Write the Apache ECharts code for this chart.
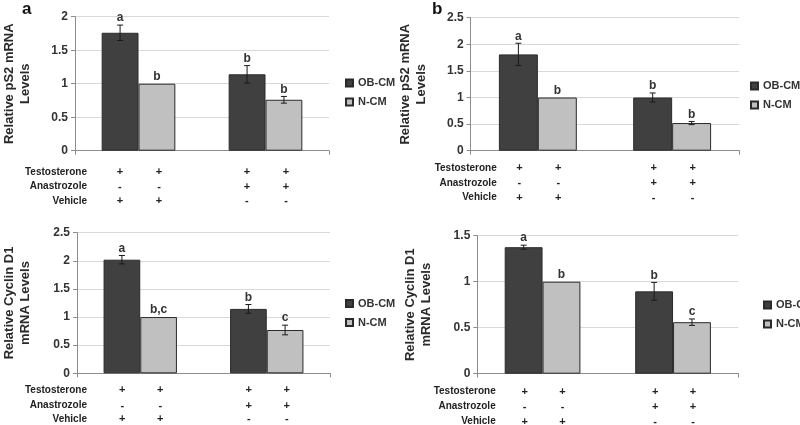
<!DOCTYPE html>
<html><head><meta charset="utf-8">
<script src="https://cdn.jsdelivr.net/npm/echarts@6/dist/echarts.min.js"></script>
<style>html,body{margin:0;padding:0;background:#fff}#c{width:800px;height:425px}</style>
</head><body><div id="c"></div>
<script>
// ---- data ----
const groups = ['Testosterone+Vehicle', 'Testosterone+Anastrozole'];
const seriesNames = ['OB-CM', 'N-CM'];

const pS2A_OB = [1.76, 1.14];   const pS2A_OB_err = [0.115, 0.13];  const pS2A_OB_let = ['a', 'b'];
const pS2A_N  = [1.00, 0.76];   const pS2A_N_err  = [0, 0.05];      const pS2A_N_let  = ['b', 'b'];
const pS2B_OB = [1.81, 1.00];   const pS2B_OB_err = [0.21, 0.085];  const pS2B_OB_let = ['a', 'b'];
const pS2B_N  = [1.00, 0.52];   const pS2B_N_err  = [0, 0.03];      const pS2B_N_let  = ['b', 'b'];
const cycA_OB = [2.02, 1.145];  const cycA_OB_err = [0.075, 0.078]; const cycA_OB_let = ['a', 'b'];
const cycA_N  = [1.00, 0.77];   const cycA_N_err  = [0, 0.086];     const cycA_N_let  = ['b,c', 'c'];
const cycB_OB = [1.375, 0.895]; const cycB_OB_err = [0.022, 0.097]; const cycB_OB_let = ['a', 'b'];
const cycB_N  = [1.00, 0.56];   const cycB_N_err  = [0, 0.035];     const cycB_N_let  = ['b', 'c'];

const yMax = [2, 2.5, 2.5, 1.5];
const yNames = ['Relative pS2 mRNA\nLevels', 'Relative pS2 mRNA\nLevels', 'Relative Cyclin D1\nmRNA Levels', 'Relative Cyclin D1\nmRNA Levels'];
const panelLetters = ['a', 'b'];

const tableRows = ['Testosterone', 'Anastrozole', 'Vehicle'];
const testosteroneRow = ['+', '+', '+', '+'];
const anastrozoleRow  = ['-', '-', '+', '+'];
const vehicleRow      = ['+', '+', '-', '-'];

// ---- layout ----
const panels = [
  {vals:[pS2A_OB,pS2A_N], errs:[pS2A_OB_err,pS2A_N_err], lets:[pS2A_OB_let,pS2A_N_let],
   grid:{left:59, top:16.7, width:270, height:134}, nameGap:42, legend:{left:340, top:72.5},
   table:{right:87, dy:[21.3,36,50.3]}},
  {vals:[pS2B_OB,pS2B_N], errs:[pS2B_OB_err,pS2B_N_err], lets:[pS2B_OB_let,pS2B_N_let],
   grid:{left:470.7, top:17.7, width:268.6, height:133}, nameGap:41, legend:{left:745, top:75.5},
   table:{right:496.7, dy:[17.3,32.3,47]}},
  {vals:[cycA_OB,cycA_N], errs:[cycA_OB_err,cycA_N_err], lets:[cycA_OB_let,cycA_N_let],
   grid:{left:68.3, top:232.7, width:261.7, height:140.6}, nameGap:44, legend:{left:340, top:293},
   table:{right:87, dy:[16.7,32.4,46]}},
  {vals:[cycB_OB,cycB_N], errs:[cycB_OB_err,cycB_N_err], lets:[cycB_OB_let,cycB_N_let],
   grid:{left:477.3, top:235.7, width:261, height:138}, nameGap:43, legend:{left:758, top:294.5},
   table:{right:495.7, dy:[18,33,48]}}
];
const colors = ['#404040', '#c0c0c0'];
const GAP = 0.42;
const FONT = 'Liberation Sans, Arial, sans-serif';

const chart = echarts.init(document.getElementById('c'), null, {renderer:'canvas'});
const grid = [], xAxis = [], yAxis = [], series = [], legend = [];
panels.forEach((p, i) => {
  grid.push(Object.assign({containLabel:false}, p.grid));
  xAxis.push({type:'category', gridIndex:i, data:groups,
    axisLine:{lineStyle:{color:'#8c8c8c', width:1}},
    axisTick:{show:true, length:4, lineStyle:{color:'#8c8c8c'}},
    axisLabel:{show:false}});
  yAxis.push({type:'value', gridIndex:i, min:0, max:yMax[i], interval:0.5,
    name:yNames[i], nameLocation:'middle', nameRotate:90, nameGap:p.nameGap,
    nameTextStyle:{fontFamily:FONT, fontSize:13, fontWeight:'bold', color:'#2a2a2a', lineHeight:16},
    axisLine:{show:true, lineStyle:{color:'#8c8c8c'}},
    axisTick:{show:true, length:4, lineStyle:{color:'#8c8c8c'}},
    axisLabel:{fontFamily:FONT, fontSize:12, fontWeight:'bold', color:'#333', margin:7},
    splitLine:{lineStyle:{color:'#d9d9d9'}}});
  [0,1].forEach(s => {
    series.push({type:'bar', name:seriesNames[s], xAxisIndex:i, yAxisIndex:i,
      data:p.vals[s], barGap:'0%', barCategoryGap:(GAP*100)+'%',
      itemStyle:{color:colors[s], borderColor:'#2a2a2a', borderWidth:1}, silent:true});
  });
  const errData = [];
  [0,1].forEach(s => p.vals[s].forEach((v, k) => errData.push([k, v, p.errs[s][k], s, p.lets[s][k]])));
  series.push({type:'custom', xAxisIndex:i, yAxisIndex:i, silent:true, z:5,
    data:errData.map(d => [d[0], d[1], d[2], d[3]]),
    renderItem:(params, api) => {
      const d = errData[params.dataIndex];
      const cat = d[0], v = d[1], e = d[2], s = d[3], letter = d[4];
      const cw = api.size([1, 0])[0];
      const bw = cw * (1 - GAP) / 2;
      const off = s === 0 ? -bw / 2 : bw / 2;
      const base = api.coord([cat, v]);
      const x = base[0] + off;
      const pTop = api.coord([cat, v + e])[1];
      const pBot = api.coord([cat, v - e])[1];
      const ch = [];
      if (e > 0) {
        const st = {stroke:'#1a1a1a', lineWidth:1};
        ch.push({type:'line', shape:{x1:x, y1:pTop, x2:x, y2:pBot}, style:st});
        ch.push({type:'line', shape:{x1:x-3, y1:pTop, x2:x+3, y2:pTop}, style:st});
        ch.push({type:'line', shape:{x1:x-3, y1:pBot, x2:x+3, y2:pBot}, style:st});
      }
      ch.push({type:'text', style:{text:letter, x:x, y:pTop - 1, align:'center', verticalAlign:'bottom',
        font:'bold 12px ' + FONT, fill:'#333'}});
      return {type:'group', children:ch};
    }});
  legend.push({data:seriesNames, orient:'vertical', left:p.legend.left, top:p.legend.top,
    icon:'rect', itemWidth:7, itemHeight:7, itemGap:8,
    textStyle:{fontFamily:FONT, fontSize:11, fontWeight:'bold', color:'#333'},
    selectedMode:false});
});

chart.setOption({animation:false, backgroundColor:'#fff', grid, xAxis, yAxis, series, legend});

// ---- table & panel letters as graphics ----
const graphics = [];
graphics.push({type:'text', left:22, top:1, style:{text:panelLetters[0], font:'bold 17px ' + FONT, fill:'#111'}});
graphics.push({type:'text', left:432, top:1, style:{text:panelLetters[1], font:'bold 17px ' + FONT, fill:'#111'}});
const rowsVals = [testosteroneRow, anastrozoleRow, vehicleRow];
panels.forEach((p, i) => {
  const g = p.grid;
  const cw = g.width / groups.length;
  const bw = cw * (1 - GAP) / 2;
  const centers = [];
  groups.forEach((_, k) => {
    const cx = chart.convertToPixel({xAxisIndex:i}, k);
    centers.push(cx - bw / 2, cx + bw / 2);
  });
  const bottom = g.top + g.height;
  tableRows.forEach((r, ri) => {
    const y = bottom + p.table.dy[ri];
    graphics.push({type:'text', x:p.table.right, y:y, style:{text:r, align:'right', verticalAlign:'middle',
      font:'bold 10px ' + FONT, fill:'#222'}});
    rowsVals[ri].forEach((sym, c) => {
      graphics.push({type:'text', x:centers[c] + 1, y:y, style:{text:sym, align:'center', verticalAlign:'middle',
        font:'bold 11px ' + FONT, fill:'#222'}});
    });
  });
});
chart.setOption({graphic:graphics});
</script></body></html>
